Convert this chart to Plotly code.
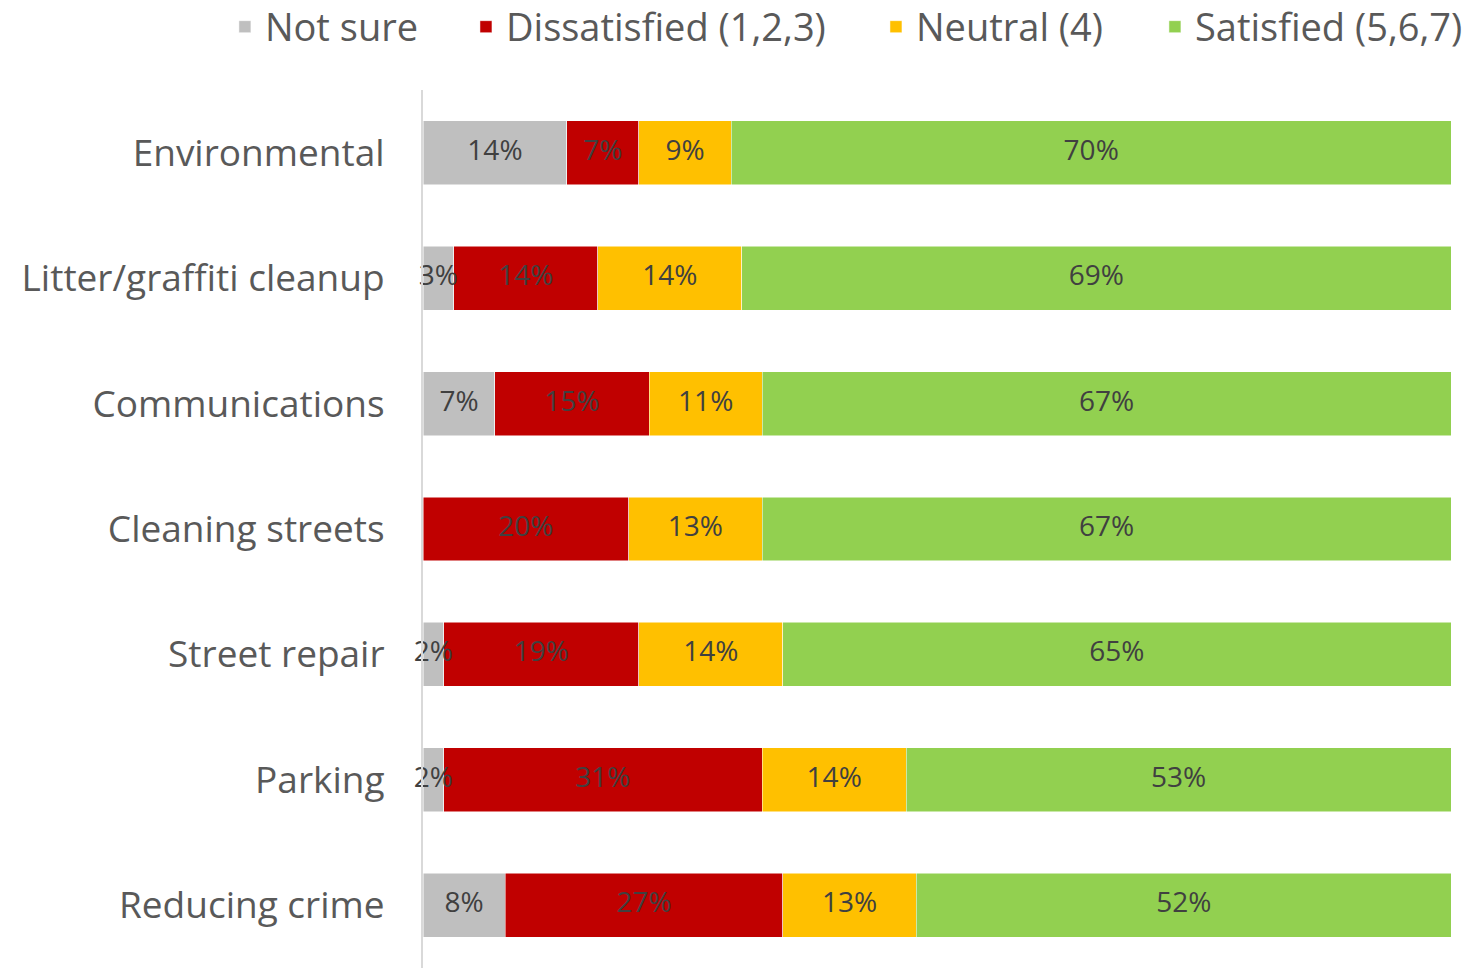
import plotly.graph_objects as go

categories = ["Environmental", "Litter/graffiti cleanup", "Communications",
              "Cleaning streets", "Street repair", "Parking", "Reducing crime"]

not_sure = [14, 3, 7, 0, 2, 2, 8]
dissatisfied = [7, 14, 15, 20, 19, 31, 27]
neutral = [9, 14, 11, 13, 14, 14, 13]
satisfied = [70, 69, 67, 67, 65, 53, 52]

series = [
    ("Not sure", not_sure, "#BFBFBF"),
    ("Dissatisfied (1,2,3)", dissatisfied, "#C00000"),
    ("Neutral (4)", neutral, "#FFC000"),
    ("Satisfied (5,6,7)", satisfied, "#92D050"),
]

FONT = "Open Sans"

# each series gets its own legend box so the spacing can follow the original
legend_ids = ["legend", "legend2", "legend3", "legend4"]
legend_x = [0.1531, 0.3172, 0.5963, 0.7862]

fig = go.Figure()

for (name, vals, color), lid in zip(series, legend_ids):
    fig.add_trace(go.Bar(
        y=categories,
        x=vals,
        name=name,
        orientation="h",
        legend=lid,
        showlegend=True,
        marker=dict(color=color, line=dict(color="white", width=0.5)),
        hoverinfo="x+y+name",
    ))

# labels go on a text layer above every bar, so narrow segments can spill over
starts = [0] * len(categories)
for name, vals, color in series:
    mids = [s + v / 2 for s, v in zip(starts, vals)]
    fig.add_trace(go.Scatter(
        x=mids,
        y=categories,
        mode="text",
        text=[f"{v}%" if v else "" for v in vals],
        textposition="middle center",
        textfont=dict(family=FONT, size=28, color="#404040"),
        cliponaxis=False,
        showlegend=False,
        hoverinfo="skip",
    ))
    starts = [s + v for s, v in zip(starts, vals)]

legend_style = dict(
    orientation="h",
    xref="container", xanchor="left",
    yref="container", y=0.9722, yanchor="middle",
    font=dict(family=FONT, size=38, color="#595959"),
    itemwidth=30,
    bgcolor="rgba(0,0,0,0)",
)

fig.update_layout(
    barmode="stack",
    bargap=0.49,
    width=1469,
    height=970,
    showlegend=True,
    margin=dict(l=423, r=18, t=90, b=2, autoexpand=False),
    plot_bgcolor="white",
    paper_bgcolor="white",
    font=dict(family=FONT, color="#595959"),
    **{lid: dict(legend_style, x=lx) for lid, lx in zip(legend_ids, legend_x)},
)

fig.update_xaxes(range=[0, 100], visible=False, showgrid=False, zeroline=False)
fig.update_yaxes(
    autorange="reversed",
    showline=True,
    linecolor="#D9D9D9",
    linewidth=2,
    showgrid=False,
    ticks="",
    ticklabelstandoff=29,
    tickfont=dict(family=FONT, size=37, color="#595959"),
)

# drop the default page margin so the figure sits at the window's corner
fig.write_html("out.html", config={"displayModeBar": False},
               post_script="document.body.style.margin='0';")
